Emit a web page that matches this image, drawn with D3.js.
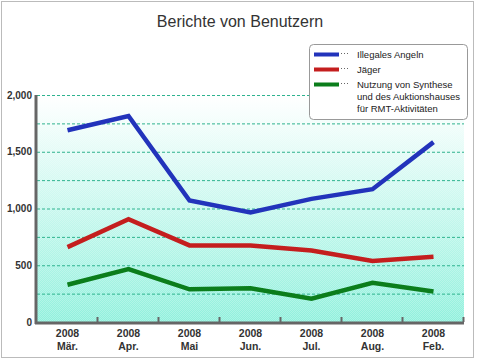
<!DOCTYPE html>
<html><head><meta charset="utf-8">
<script src="https://cdn.jsdelivr.net/npm/d3@7"></script>
<style>body{margin:0;background:#fff}svg{display:block}</style>
</head><body>
<script>
const title = "Berichte von Benutzern";
const years = ["2008","2008","2008","2008","2008","2008","2008"];
const months = ["Mär.","Apr.","Mai","Jun.","Jul.","Aug.","Feb."];
const illegal = [1690, 1815, 1070, 965, 1085, 1170, 1585];
const jaeger = [660, 905, 675, 675, 630, 538, 575];
const synth = [328, 467, 288, 298, 206, 345, 268];
const yTicks = [0, 500, 1000, 1500, 2000];
const gridVals = [250, 500, 750, 1000, 1250, 1500, 1750, 2000];
const seriesNames = [["Illegales Angeln"], ["Jäger"], ["Nutzung von Synthese","und des Auktionshauses","für RMT-Aktivitäten"]];
const colors = ["#2233bb", "#c41e1e", "#0b7d1b"];

const W = 480, H = 360;
const svg = d3.select("body").append("svg").attr("width", W).attr("height", H);
const defs = svg.append("defs");
const grad = defs.append("linearGradient").attr("id","bg").attr("x1",0).attr("y1",0).attr("x2",0).attr("y2",1);
grad.append("stop").attr("offset","0%").attr("stop-color","#ffffff");
grad.append("stop").attr("offset","100%").attr("stop-color","#8ff0dc");
const pat = defs.append("pattern").attr("id","chk").attr("width",2).attr("height",2).attr("patternUnits","userSpaceOnUse");
pat.append("rect").attr("width",1).attr("height",1).attr("fill","#ffffff").attr("opacity",0.25);
pat.append("rect").attr("x",1).attr("y",1).attr("width",1).attr("height",1).attr("fill","#ffffff").attr("opacity",0.25);

svg.append("rect").attr("x",1.5).attr("y",1.5).attr("width",472).attr("height",356)
  .attr("fill","#fff").attr("stroke","#bbbbbb").attr("stroke-width",1);

svg.append("text").attr("x",240).attr("y",27).attr("text-anchor","middle")
  .attr("font-family","Liberation Sans, Arial, sans-serif").attr("font-size",16)
  .attr("fill","#333").text(title);

const pLeft = 37, pRight = 464, pTop = 95, pBottom = 322;
const x = d3.scaleBand().domain(d3.range(months.length)).range([pLeft, pRight]);
const y = d3.scaleLinear().domain([0, 2000]).range([pBottom, pTop]);

svg.append("rect").attr("x",pLeft).attr("y",pTop).attr("width",pRight-pLeft).attr("height",pBottom-pTop).attr("fill","url(#bg)");
svg.append("rect").attr("x",pLeft).attr("y",pTop).attr("width",pRight-pLeft).attr("height",pBottom-pTop).attr("fill","url(#chk)");

svg.append("g").selectAll("line").data(gridVals).join("line")
  .attr("x1",pLeft).attr("x2",pRight).attr("y1",d=>y(d)+0.5).attr("y2",d=>y(d)+0.5)
  .attr("stroke","#2fb38f").attr("stroke-width",1).attr("stroke-dasharray","3,2");

const font = "Liberation Sans, Arial, sans-serif";
// y axis
const yAxis = d3.axisLeft(y).tickValues(yTicks).tickSize(0).tickPadding(5).tickFormat(d3.format(","));
const gy = svg.append("g").attr("transform",`translate(${pLeft},0)`).call(yAxis);
gy.select(".domain").remove();
gy.selectAll("text").attr("font-family",font).attr("font-size",10).attr("font-weight","bold").attr("fill","#333");
svg.append("line").attr("x1",pLeft-1).attr("x2",pLeft-1).attr("y1",pTop).attr("y2",pBottom+2).attr("stroke","#666").attr("stroke-width",3);

// x axis
const xAxis = d3.axisBottom(x).tickSize(0).tickFormat("");
const gx = svg.append("g").attr("transform",`translate(0,${pBottom})`).call(xAxis);
gx.select(".domain").remove();
svg.append("line").attr("x1",pLeft-2).attr("x2",pRight).attr("y1",pBottom+1).attr("y2",pBottom+1).attr("stroke","#666").attr("stroke-width",3);
const bounds = d3.range(1, months.length+1).map(i => x(i-1) + x.bandwidth());
svg.append("g").selectAll("line").data(bounds).join("line")
  .attr("x1",d=>Math.round(d)-0.5).attr("x2",d=>Math.round(d)-0.5).attr("y1",pBottom-5).attr("y2",pBottom)
  .attr("stroke","#666").attr("stroke-width",2);
const xl = svg.append("g").selectAll("text").data(months).join("text")
  .attr("x",(d,i)=>x(i)+x.bandwidth()/2).attr("text-anchor","middle")
  .attr("font-family",font).attr("font-size",10.5).attr("font-weight","bold").attr("fill","#333");
xl.append("tspan").attr("x",(d,i)=>x(i)+x.bandwidth()/2).attr("y",337).text((d,i)=>years[i]);
xl.append("tspan").attr("x",(d,i)=>x(i)+x.bandwidth()/2).attr("y",350).text(d=>d);

// lines
const line = d3.line().x((d,i)=>x(i)+x.bandwidth()/2).y(d=>y(d));
[illegal, jaeger, synth].forEach((s,k)=>{
  svg.append("path").datum(s).attr("d",line).attr("fill","none")
    .attr("stroke",colors[k]).attr("stroke-width",4.5).attr("stroke-linejoin","miter");
});

// legend
svg.append("rect").attr("x",309.5).attr("y",44.5).attr("width",158).attr("height",75).attr("rx",4)
  .attr("fill","#fff").attr("stroke","#999").attr("stroke-width",1);
const rowsY = [[58],[73],[88,100,112]];
seriesNames.forEach((names,k)=>{
  const ly = rowsY[k][0]-3.5;
  svg.append("line").attr("x1",314).attr("x2",339).attr("y1",ly).attr("y2",ly).attr("stroke",colors[k]).attr("stroke-width",4);
  svg.append("line").attr("x1",341).attr("x2",349).attr("y1",ly-1).attr("y2",ly-1).attr("stroke","#666").attr("stroke-width",1).attr("stroke-dasharray","1,2");
  names.forEach((n,j)=>{
    svg.append("text").attr("x",357).attr("y",rowsY[k][j]).attr("font-family",font).attr("font-size",9.5)
      .attr("fill","#222").text(n);
  });
});
</script>
</body></html>
